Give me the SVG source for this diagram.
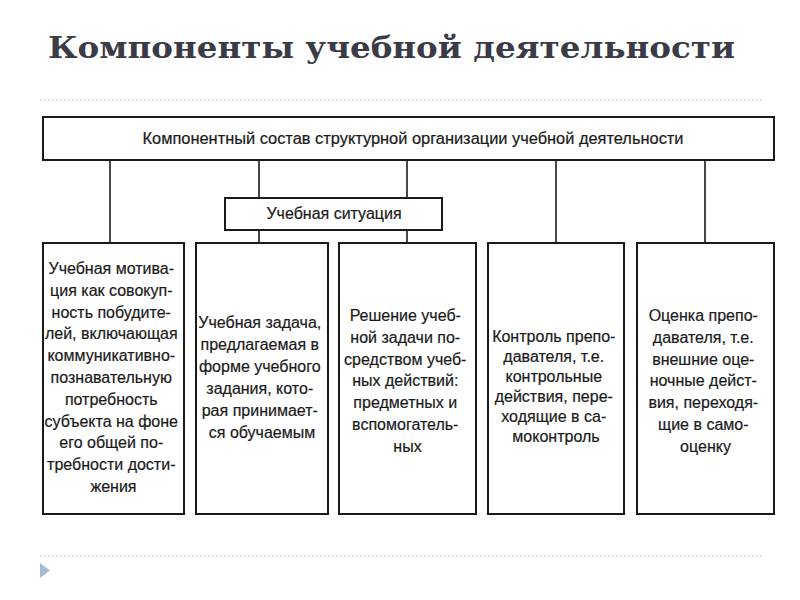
<svg xmlns="http://www.w3.org/2000/svg" width="800" height="600" viewBox="0 0 800 600">
<style>
.box{fill:#fff;stroke:#1a1a1a;stroke-width:2}
.ln{stroke:#1a1a1a;stroke-width:1.6;fill:none}
.t{font-family:"Liberation Sans",Arial,sans-serif;font-size:16px;fill:#1a1a1a;text-anchor:middle;stroke:#1a1a1a;stroke-width:0.2}
.h{font-family:"Liberation Sans",Arial,sans-serif;font-size:16px;fill:#1a1a1a;text-anchor:middle;stroke:#1a1a1a;stroke-width:0.2}
.dot{stroke:#b9c9d9;stroke-width:1.2;stroke-dasharray:2 2}
</style>
<rect width="800" height="600" fill="#fff"/>
<text x="48" y="58" font-family="'DejaVu Serif','Liberation Serif',serif" font-weight="bold" font-size="30" fill="#3b3b47" textLength="687" lengthAdjust="spacingAndGlyphs">Компоненты учебной деятельности</text>
<line class="dot" x1="40" y1="100" x2="764" y2="100"/>
<line class="dot" x1="40" y1="556" x2="764" y2="556"/>
<polygon points="40,563 50,570.5 40,578" fill="#a7bacd"/>
<g id="connectors">
<line class="ln" x1="110" y1="160" x2="110" y2="243"/>
<line class="ln" x1="259" y1="160" x2="259" y2="198"/>
<line class="ln" x1="259" y1="230" x2="259" y2="243"/>
<line class="ln" x1="407" y1="160" x2="407" y2="198"/>
<line class="ln" x1="407" y1="230" x2="407" y2="243"/>
<line class="ln" x1="556" y1="160" x2="556" y2="243"/>
<line class="ln" x1="705" y1="160" x2="705" y2="243"/>
</g>
<g id="top">
<rect class="box" x="43" y="117" width="731" height="43"/>
<text class="h" x="413" y="144" textLength="541" lengthAdjust="spacingAndGlyphs">Компонентный состав структурной организации учебной деятельности</text>
</g>
<g id="situation">
<rect class="box" x="225" y="198" width="217" height="32"/>
<text class="h" x="334" y="219">Учебная ситуация</text>
</g>
<g id="motivation">
<rect class="box" x="43" y="243" width="141" height="271"/>
<text class="t">
<tspan x="113.5" y="274">Учебная мотива-</tspan>
<tspan x="113.5" y="295.8">ция как совокуп-</tspan>
<tspan x="113.5" y="317.6">ность побудите-</tspan>
<tspan x="113.5" y="339.4">лей, включающая</tspan>
<tspan x="113.5" y="361.2">коммуникативно-</tspan>
<tspan x="113.5" y="383">познавательную</tspan>
<tspan x="113.5" y="404.8">потребность</tspan>
<tspan x="113.5" y="426.6">субъекта на фоне</tspan>
<tspan x="113.5" y="448.4">его общей по-</tspan>
<tspan x="113.5" y="470.2">требности дости-</tspan>
<tspan x="113.5" y="492">жения</tspan>
</text>
</g>
<g id="task">
<rect class="box" x="196" y="243" width="132" height="271"/>
<text class="t">
<tspan x="262" y="328">Учебная задача,</tspan>
<tspan x="262" y="350">предлагаемая в</tspan>
<tspan x="262" y="372">форме учебного</tspan>
<tspan x="262" y="394">задания, кото-</tspan>
<tspan x="262" y="416">рая принимает-</tspan>
<tspan x="262" y="438">ся обучаемым</tspan>
</text>
</g>
<g id="solution">
<rect class="box" x="339" y="243" width="137" height="271"/>
<text class="t">
<tspan x="407.5" y="321">Решение учеб-</tspan>
<tspan x="407.5" y="342.8">ной задачи по-</tspan>
<tspan x="407.5" y="364.6">средством учеб-</tspan>
<tspan x="407.5" y="386.4">ных действий:</tspan>
<tspan x="407.5" y="408.2">предметных и</tspan>
<tspan x="407.5" y="430">вспомогатель-</tspan>
<tspan x="407.5" y="451.8">ных</tspan>
</text>
</g>
<g id="control">
<rect class="box" x="488" y="243" width="136" height="271"/>
<text class="t">
<tspan x="556" y="342">Контроль препо-</tspan>
<tspan x="556" y="362">давателя, т.е.</tspan>
<tspan x="556" y="382">контрольные</tspan>
<tspan x="556" y="402">действия, пере-</tspan>
<tspan x="556" y="422">ходящие в са-</tspan>
<tspan x="556" y="442">моконтроль</tspan>
</text>
</g>
<g id="assessment">
<rect class="box" x="637" y="243" width="137" height="271"/>
<text class="t">
<tspan x="705.5" y="321">Оценка препо-</tspan>
<tspan x="705.5" y="342.8">давателя, т.е.</tspan>
<tspan x="705.5" y="364.6">внешние оце-</tspan>
<tspan x="705.5" y="386.4">ночные дейст-</tspan>
<tspan x="705.5" y="408.2">вия, переходя-</tspan>
<tspan x="705.5" y="430">щие в само-</tspan>
<tspan x="705.5" y="451.8">оценку</tspan>
</text>
</g>
</svg>
